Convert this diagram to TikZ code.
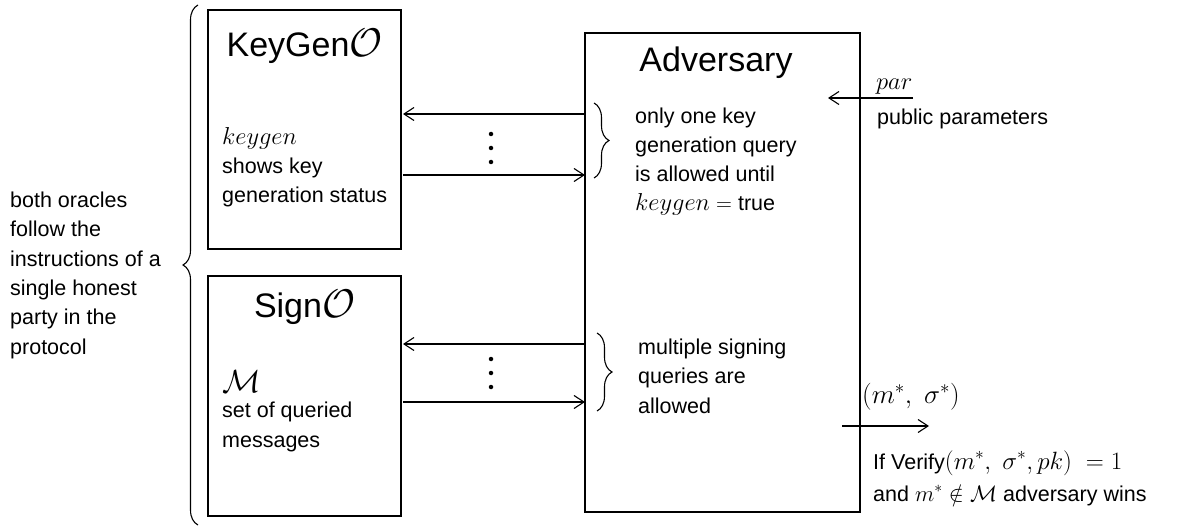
\RequirePackage{fix-cm}
\documentclass[tikz,border=0pt]{standalone}
\usepackage{fontspec}
\setmainfont{Liberation Sans}
\usetikzlibrary{arrows.meta,decorations.pathreplacing}
\newcommand{\mth}[2][24.5]{{\fontsize{#1}{29.3}\selectfont$#2$}}
\begin{document}
\begin{tikzpicture}[x=1pt,y=-1pt,
  box/.style={draw, line width=1.2pt, inner sep=0pt, outer sep=0pt},
  txt/.style={font=\fontsize{21.5}{29.3}\selectfont, align=left, anchor=base west, inner sep=0pt},
  ttl/.style={font=\fontsize{34}{40}\selectfont, anchor=base, inner sep=0pt},
  arr/.style={-{Straight Barb[length=10pt,width=13pt,line width=1.1pt]}, line width=1.1pt},
  brc/.style={decorate, decoration={brace, amplitude=15pt}, line width=1.1pt},
  dotc/.style={circle, fill, inner sep=0pt, minimum size=4.5pt}]
\useasboundingbox (0,0) rectangle (1194,529);

% boxes
\node[box, minimum width=193pt, minimum height=239pt] (kg) at (304.5,129.5) {};
\node[box, minimum width=193pt, minimum height=240pt] (sg) at (304.5,396) {};
\node[box, minimum width=275pt, minimum height=479pt] (adv) at (722.5,272.5) {};

% titles
\node[ttl] (kgt) at (304.5,57) {KeyGen\mth[40]{\mathcal{O}}};
\node[ttl] (sgt) at (304.5,318) {Sign\mth[40]{\mathcal{O}}};
\node[ttl] (advt) at (716,72) {Adversary};

% left annotation (base = last line)
\node[txt] (lt) at (10,354) {both oracles\\follow the\\instructions of a\\single honest\\party in the\\protocol};
\draw[brc] (198,525) -- (198,5);

% oracle contents
\node[txt] (kgb) at (222,203) {\mth{keygen}\\shows key\\generation status};
\node[txt] (msym) at (222,392) {\mth[32]{\mathcal{M}}};
\node[txt] (sgb) at (222,447) {set of queried\\messages};

% adversary notes
\node[txt] (an1) at (635,211) {only one key\\generation query\\is allowed until\\\mth{keygen}\mth[22]{\;=\;}true};
\draw[brc] (594,103) -- (594,178);
\node[txt] (an2) at (638,413) {multiple signing\\queries are\\allowed};
\draw[brc] (597,333) -- (597,411);

% keygen arrows
\coordinate (k1) at (0,114);
\coordinate (k2) at (0,175);
\draw[arr, shorten >=2pt] (adv.west |- k1) -- (kg.east |- k1);
\draw[arr, shorten <=2pt] (kg.east |- k2) -- (adv.west |- k2);
\node[dotc] (kd1) at (491,134) {};
\node[dotc] (kd2) at (491,148) {};
\node[dotc] (kd3) at (491,162) {};

% sign arrows
\coordinate (s1) at (0,344);
\coordinate (s2) at (0,402);
\draw[arr, shorten >=2pt] (adv.west |- s1) -- (sg.east |- s1);
\draw[arr, shorten <=2pt] (sg.east |- s2) -- (adv.west |- s2);
\node[dotc] (sd1) at (491,359) {};
\node[dotc] (sd2) at (491,373) {};
\node[dotc] (sd3) at (491,387) {};

% public parameters
\coordinate (parS) at (913,98);
\coordinate (parE) at (828,98);
\draw[arr] (parS) -- (parE);
\node[txt] (par) at (876,90) {\mth{par}};
\node[txt] (pp) at (877,125) {public parameters};

% output
\coordinate (oS) at (842,426);
\coordinate (oE) at (929,426);
\draw[arr] (oS) -- (oE);
\node[txt] (out) at (862,403) {\mth[27]{(m^{*},\ \sigma^{*})}};
\node[txt] (ver) at (873,469) {If Verify\mth[25]{(m^{*},\ \sigma^{*}, pk)\ = 1}};
\node[txt] (win) at (873,501) {and \mth[22.5]{m^{*}\notin \mathcal{M}} adversary wins};
\end{tikzpicture}
\end{document}
